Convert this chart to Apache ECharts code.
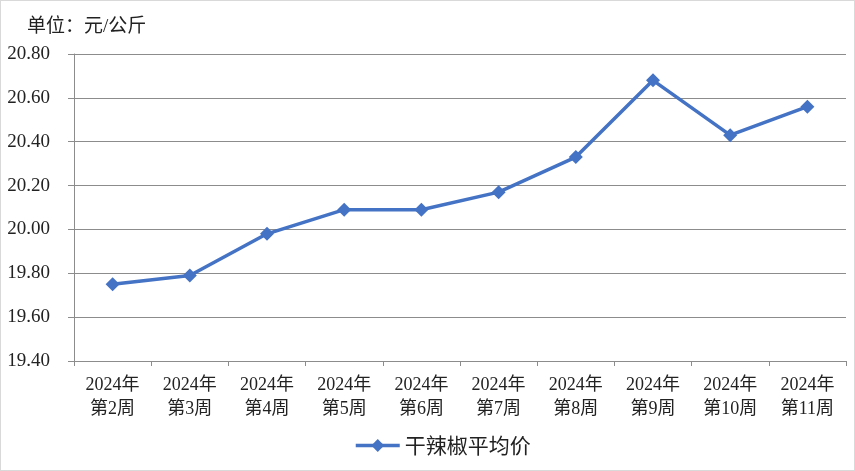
<!DOCTYPE html>
<html><head><meta charset="utf-8">
<script src="https://cdn.jsdelivr.net/npm/echarts@6/dist/echarts.min.js"></script>
<style>
html,body{margin:0;padding:0;background:#fff;}
#c{width:855px;height:471px;box-sizing:border-box;border:1px solid #d9d9d9;}
</style></head>
<body><div id="c"></div>
<script>
var categories = ['2024年\n第2周','2024年\n第3周','2024年\n第4周','2024年\n第5周','2024年\n第6周','2024年\n第7周','2024年\n第8周','2024年\n第9周','2024年\n第10周','2024年\n第11周'];
var prices = [19.75, 19.79, 19.98, 20.09, 20.09, 20.17, 20.33, 20.68, 20.43, 20.56];
var seriesName = '干辣椒平均价';
var unitText = '单位：元/公斤';

var serif = '"Liberation Serif","Noto Sans CJK SC",serif';
var chart = echarts.init(document.getElementById('c'));
chart.setOption({
  animation:false,
  title:{text:unitText,left:21,top:12,textStyle:{fontFamily:serif,fontSize:19,fontWeight:'normal',color:'#222'}},
  grid:{left:73,right:8,top:53,bottom:109,containLabel:false,outerBoundsMode:'none'},
  legend:{bottom:9,left:348,itemWidth:44,itemHeight:16,itemGap:6,
    textStyle:{fontFamily:'"Noto Sans CJK SC",sans-serif',fontSize:21,color:'#222'},
    data:[{name:seriesName,lineStyle:{width:3.5}}]},
  xAxis:{type:'category',data:categories,boundaryGap:true,
    axisLine:{lineStyle:{color:'#8c8c8c',width:1}},
    axisTick:{show:true,length:5,lineStyle:{color:'#8c8c8c'}},
    axisLabel:{interval:0,margin:12,fontFamily:serif,fontSize:18,lineHeight:24,color:'#222'}},
  yAxis:{type:'value',min:19.4,max:20.8,interval:0.2,
    axisLine:{show:true,lineStyle:{color:'#8c8c8c'}},
    axisTick:{show:true,length:6,lineStyle:{color:'#8c8c8c'}},
    splitLine:{lineStyle:{color:'#8c8c8c',width:1}},
    axisLabel:{margin:24,fontFamily:serif,fontSize:19,color:'#222',
      formatter:function(v){return v.toFixed(2);}}},
  series:[{name:seriesName,type:'line',data:prices,symbol:'diamond',symbolSize:14,
    lineStyle:{color:'#4472C4',width:3.5},itemStyle:{color:'#4472C4'}}]
});
</script></body></html>
